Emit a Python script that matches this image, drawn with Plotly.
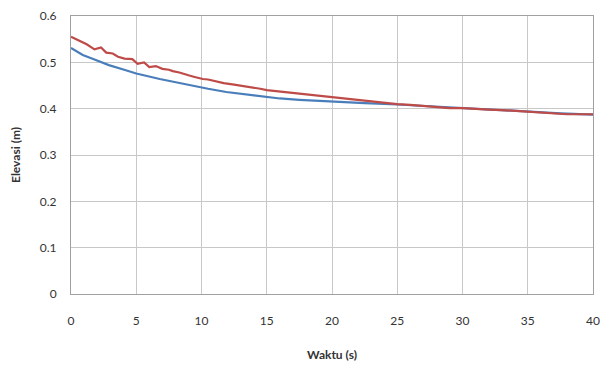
import plotly.graph_objects as go

# Red series (jagged)
red_t = [0, 0.6, 1.2, 1.8, 2.3, 2.7, 3.2, 3.6, 4.1, 4.7, 5.1, 5.6, 6.0, 6.5, 7.0, 7.5, 7.8,
         8.3, 8.6, 9.0, 9.4, 10.1, 10.5, 10.9, 11.7, 12.5, 13.0, 13.5, 14.5, 15, 16, 17, 18,
         19, 20, 21, 22, 23, 24, 25, 26, 27, 28, 29, 30, 31, 32, 33, 34, 35, 36, 37, 38, 39, 40]
red_v = [0.555, 0.547, 0.539, 0.528, 0.532, 0.521, 0.519, 0.512, 0.508, 0.507, 0.497, 0.500,
         0.490, 0.492, 0.486, 0.484, 0.481, 0.478, 0.476, 0.472, 0.469, 0.464, 0.463, 0.460,
         0.455, 0.452, 0.450, 0.448, 0.443, 0.440, 0.437, 0.434, 0.430, 0.427, 0.425, 0.422,
         0.419, 0.416, 0.413, 0.410, 0.408, 0.406, 0.404, 0.401, 0.401, 0.399, 0.398, 0.397,
         0.395, 0.394, 0.392, 0.389, 0.388, 0.388, 0.388]

# Blue series (smooth)
blue_t = [0, 0.9, 1.7, 2.9, 4.2, 5, 6.8, 8, 9.4, 10.5, 11.9, 13, 14, 15, 16, 17.5, 20,
          22.5, 25, 27.5, 30, 32.5, 35, 37.5, 40]
blue_v = [0.531, 0.516, 0.507, 0.494, 0.483, 0.476, 0.464, 0.457, 0.449, 0.443, 0.436, 0.432,
          0.428, 0.425, 0.422, 0.419, 0.415, 0.412, 0.409, 0.405, 0.401, 0.398, 0.394, 0.390,
          0.387]

x_ticks = [0, 5, 10, 15, 20, 25, 30, 35, 40]
y_ticks = [0, 0.1, 0.2, 0.3, 0.4, 0.5, 0.6]
y_labels = ["0", "0.1", "0.2", "0.3", "0.4", "0.5", "0.6"]

fig = go.Figure()
fig.add_trace(go.Scatter(x=blue_t, y=blue_v, mode="lines",
                         line=dict(color="#4A7EBB", width=2.2), showlegend=False))
fig.add_trace(go.Scatter(x=red_t, y=red_v, mode="lines",
                         line=dict(color="#BE4B48", width=2.2), showlegend=False))

grid = "#C8C8C8"
font = "Lato, Open Sans, sans-serif"
fig.update_layout(
    width=606, height=367,
    margin=dict(l=71, r=13, t=16, b=73),
    paper_bgcolor="white", plot_bgcolor="white",
    font=dict(family=font, size=12, color="#333"),
    xaxis=dict(range=[0, 40], tickvals=x_ticks, showgrid=True, gridcolor=grid, gridwidth=1,
               showline=True, linecolor="#A0A0A0", linewidth=1, mirror=True, automargin=False,
               ticks="", zeroline=False, ticklabelstandoff=16,
               title=dict(text="<b>Waktu (s)</b>", font=dict(size=12), standoff=23)),
    yaxis=dict(range=[0, 0.6], tickvals=y_ticks, ticktext=y_labels, showgrid=True,
               gridcolor=grid, gridwidth=1, showline=True, linecolor="#A0A0A0", linewidth=1,
               mirror=True, ticks="", zeroline=False, ticklabelstandoff=11, automargin=False,
               title=dict(text="<b>Elevasi (m)</b>", font=dict(size=12), standoff=16)),
)
fig.write_html("out.html")
